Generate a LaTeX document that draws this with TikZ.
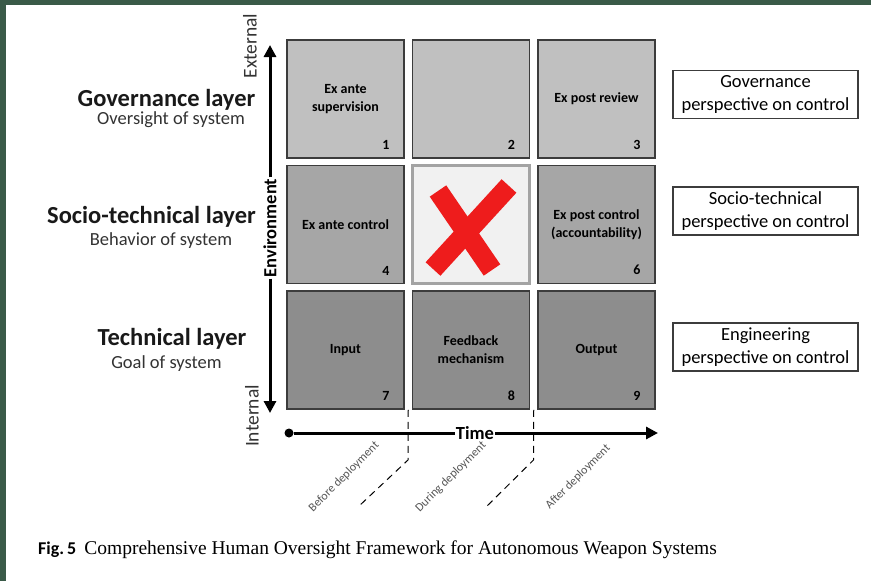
\documentclass[tikz,border=0pt]{standalone}
\usepackage{fontspec}
\setmainfont{Carlito}
\newfontfamily\captionserif{Liberation Serif}
\usetikzlibrary{arrows.meta,positioning,calc}
\definecolor{framegreen}{HTML}{3A5A48}
\definecolor{cellline}{HTML}{3C3C3C}
\definecolor{govfill}{HTML}{C0C0C0}
\definecolor{socfill}{HTML}{A6A6A6}
\definecolor{techfill}{HTML}{8D8D8D}
\definecolor{midfill}{HTML}{F1F1F1}
\definecolor{midline}{HTML}{A3A3A3}
\definecolor{crossred}{HTML}{EE1C1C}
\definecolor{phasegray}{HTML}{555555}
\tikzset{
	cell/.style={draw=cellline, line width=1.5pt, minimum width=117pt, minimum height=118pt,
		inner sep=0pt, align=center, font=\bfseries\fontsize{14}{18}\selectfont},
	gov/.style={cell, fill=govfill},
	soc/.style={cell, fill=socfill},
	tech/.style={cell, fill=techfill},
	blank/.style={cell, draw=midline, line width=2.5pt, fill=midfill},
	num/.style={anchor=south east, inner sep=0pt, font=\bfseries\fontsize{14}{16}\selectfont},
	persp/.style={draw=cellline, line width=1.2pt, minimum width=185pt, minimum height=48pt,
		align=center, inner sep=1pt, font=\fontsize{18.5}{22.5}\selectfont},
	layer/.style={inner sep=0pt, text=black!90, font=\bfseries\fontsize{24.5}{26}\selectfont},
	sub/.style={inner sep=0pt, text=black!80, font=\fontsize{18.5}{20}\selectfont},
	axis/.style={line width=3pt, -{Triangle[length=12pt,width=12pt]}},
	axistext/.style={fill=white, inner sep=1pt, font=\bfseries\fontsize{18.5}{19}\selectfont},
	pole/.style={rotate=90, inner sep=0pt, text=black!80, font=\fontsize{19.5}{20}\selectfont},
	phase/.style={rotate=45, inner sep=0pt, text=phasegray, font=\fontsize{12}{13}\selectfont},
	sep/.style={dash pattern=on 7pt off 5pt, line width=1pt},
}
\begin{document}
\begin{tikzpicture}[x=1pt, y=-1pt, on grid, node distance=125.5pt]
	\useasboundingbox (0,0) rectangle (871,581);
	\fill[white] (0,0) rectangle (871,581);
	\fill[framegreen] (0,0) rectangle (871,5);
	\fill[framegreen] (0,0) rectangle (6,581);
	
	% the nine cells
	\node[gov] (c1) at (345.5,99) {Ex ante\\supervision};
	\node[gov, right=of c1] (c2) {};
	\node[gov, right=of c2] (c3) {Ex post review};
	\node[soc, below=of c1] (c4) {Ex ante control};
	\node[blank, below=of c2] (c5) {};
	\node[soc, below=of c3] (c6) {Ex post control\\(accountability)};
	\node[tech, below=of c4] (c7) {Input};
	\node[tech, below=of c5] (c8) {Feedback\\mechanism};
	\node[tech, below=of c6] (c9) {Output};
	\foreach \i in {1,2,3,4,6,7,8,9}
		\node[num] (n\i) at ([xshift=-15pt,yshift=9pt]c\i.south east) {\i};
	
	% red cross
	\draw[crossred, line width=20pt] (438,191) -- (492,270);
	\draw[crossred, line width=20pt] (509,186) -- (433,269);
	
	% perspectives
	\node[persp] (p1) at (765.5,94.5) {Governance\\perspective on control};
	\node[persp] (p2) at (765.5,211) {Socio-technical\\perspective on control};
	\node[persp] (p3) at (765.5,347) {Engineering\\perspective on control};
	
	% layers
	\node[layer] (gl) at (166.5,100) {Governance layer};
	\node[sub] (gs) at (171,120) {Oversight of system};
	\node[layer] (sl) at (151.5,217) {Socio-technical layer};
	\node[sub] (ss) at (161,240.5) {Behavior of system};
	\node[layer] (tl) at (172,338.5) {Technical layer};
	\node[sub] (ts) at (166.5,363.5) {Goal of system};
	
	% environment axis
	\coordinate (ext) at (270,45);
	\coordinate (int) at (270,413);
	\node[axistext, rotate=90] (env) at (270,228) {Environment};
	\draw[axis] (env) -- (ext);
	\draw[axis] (env) -- (int);
	\node[pole] (extl) at (250,46) {External};
	\node[pole] (intl) at (252,416) {Internal};
	
	% time axis
	\node[circle, fill=black, inner sep=0pt, minimum size=9pt] (start) at (289,433) {};
	\coordinate (end) at (658,433);
	\node[axistext] (time) at (475,433) {Time};
	\draw[line width=3pt] (start) -- (time);
	\draw[axis] (time) -- (end);
	
	% phases
	\coordinate (s1) at ($(c7.south east)!0.5!(c8.south west)$);
	\coordinate (s2) at ($(c8.south east)!0.5!(c9.south west)$);
	\coordinate (b1) at (408,460);
	\coordinate (b2) at (533.5,460);
	\coordinate (e1) at (358,507);
	\coordinate (e2) at (485,508);
	\draw[sep] (s1) -- (b1) -- (e1);
	\draw[sep] (s2) -- (b2) -- (e2);
	\node[phase] (ph1) at (344,477) {Before deployment};
	\node[phase] (ph2) at (451,477) {During deployment};
	\node[phase] (ph3) at (578,477) {After deployment};
	
	% caption
	\node[anchor=west, inner sep=0pt] (cap) at (38,550)
		{{\bfseries\fontsize{18}{19}\selectfont Fig.\,5}\hspace{8pt}{\captionserif\fontsize{19.5}{20}\selectfont Comprehensive Human Oversight Framework for Autonomous Weapon Systems}};
\end{tikzpicture}
\end{document}
